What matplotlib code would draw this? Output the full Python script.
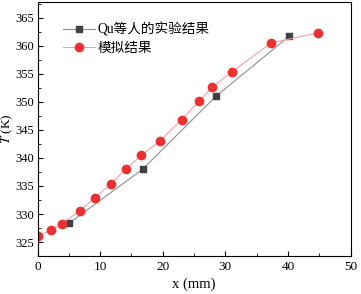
import matplotlib
matplotlib.use('Agg')
import matplotlib.pyplot as plt
from matplotlib.ticker import MultipleLocator

plt.rcParams['font.family'] = ['Liberation Serif', 'Noto Sans CJK SC']
plt.rcParams['mathtext.fontset'] = 'stix'

# experiment (Qu et al.)
exp_x = [5.1, 16.8, 28.5, 40.2]
exp_T = [328.4, 338.0, 351.0, 361.7]

# simulation
sim_x = [0.1, 2.2, 3.9, 6.8, 9.1, 11.7, 14.2, 16.6, 19.5, 23.0, 25.8, 27.9, 31.1, 37.3, 44.8]
sim_T = [326.1, 327.2, 328.3, 330.6, 332.8, 335.4, 338.1, 340.5, 343.0, 346.8, 350.1, 352.6, 355.4, 360.5, 362.3]

fig = plt.figure(figsize=(3.61, 2.94), dpi=100)
ax = fig.add_axes([0.104, 0.129, 0.867, 0.864])

ax.plot(exp_x, exp_T, color='#909090', lw=0.8, marker='s', ms=4.8,
        mfc='#404040', mec='#404040', label='Qu等人的实验结果')
ax.plot(sim_x, sim_T, color='#f4a0a0', lw=0.8, marker='o', ms=6,
        mfc='#ee3030', mec='#ee3030', label='模拟结果')

ax.set_xlim(0, 50)
ax.set_ylim(322.5, 367.8)
ax.xaxis.set_major_locator(MultipleLocator(10))
ax.xaxis.set_minor_locator(MultipleLocator(5))
ax.yaxis.set_major_locator(MultipleLocator(5))
ax.yaxis.set_minor_locator(MultipleLocator(2.5))
ax.tick_params(which='both', direction='in', labelsize=9.5)
ax.tick_params(axis='y', labelsize=9, pad=2.5)
ax.tick_params(which='major', length=3.5)
ax.tick_params(which='minor', length=2)

ax.set_xlabel('x (mm)', fontsize=10.5, labelpad=3)
ax.set_ylabel('$T$ (K)', fontsize=9.5, va='center')
ax.yaxis.set_label_coords(-0.098, 0.5)

ax.legend(loc='upper left', bbox_to_anchor=(0.065, 0.94), borderaxespad=0,
          frameon=False, fontsize=9.8, handlelength=2.3, handletextpad=0.2,
          labelspacing=0.35)

fig.savefig('out.png', dpi=100)
